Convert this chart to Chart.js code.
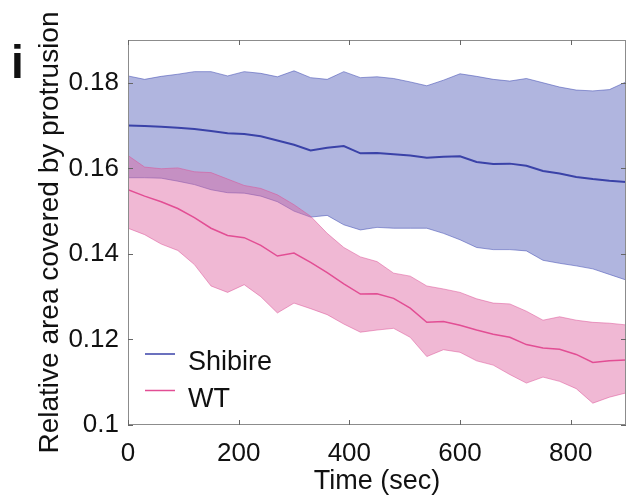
<!DOCTYPE html>
<html>
<head>
<meta charset="utf-8">
<script src="https://cdn.jsdelivr.net/npm/chart.js"></script>
<style>
  html, body { margin: 0; padding: 0; background: #fff; }
  #wrap { width: 627px; height: 498px; }
</style>
</head>
<body>
<div id="wrap"><canvas id="chart" width="627" height="498"></canvas></div>
<script>
// time points (sec)
const times = [0, 30, 60, 90, 120, 150, 180, 210, 240, 270, 300, 330, 360, 390, 420, 450,
               480, 510, 540, 570, 600, 630, 660, 690, 720, 750, 780, 810, 840, 870, 900];

// Shibire: mean and band limits
const shibireUpper = [0.1816, 0.1808, 0.1815, 0.1820, 0.1826, 0.1826, 0.1816, 0.1826, 0.1822, 0.1814, 0.1828,
                      0.1812, 0.1808, 0.1826, 0.1812, 0.1814, 0.1810, 0.1802, 0.1793, 0.1806, 0.1821,
                      0.1815, 0.1808, 0.1804, 0.1810, 0.1800, 0.1790, 0.1783, 0.1781, 0.1784, 0.1802];
const shibireMean  = [0.1700, 0.1699, 0.1697, 0.1695, 0.1692, 0.1687, 0.1682, 0.1680, 0.1675, 0.1665, 0.1655,
                      0.1642, 0.1648, 0.1652, 0.1635, 0.1636, 0.1633, 0.1630, 0.1625, 0.1627, 0.1628,
                      0.1615, 0.1610, 0.1611, 0.1606, 0.1594, 0.1588, 0.1580, 0.1575, 0.1571, 0.1568];
const shibireLower = [0.1578, 0.1578, 0.1577, 0.1570, 0.1562, 0.1550, 0.1543, 0.1542, 0.1535, 0.1522, 0.1500,
                      0.1486, 0.1490, 0.1468, 0.1456, 0.1462, 0.1460, 0.1460, 0.1460, 0.1448, 0.1433,
                      0.1415, 0.1410, 0.1410, 0.1407, 0.1385, 0.1378, 0.1372, 0.1365, 0.1352, 0.1339];

// WT: mean and band limits
const wtUpper = [0.1630, 0.1603, 0.1599, 0.1601, 0.1592, 0.1590, 0.1575, 0.1560, 0.1553, 0.1538, 0.1515,
                 0.1488, 0.1448, 0.1415, 0.1393, 0.1382, 0.1355, 0.1348, 0.1325, 0.1318, 0.1310,
                 0.1295, 0.1285, 0.1283, 0.1266, 0.1245, 0.1253, 0.1245, 0.1240, 0.1238, 0.1234];
const wtMean  = [0.1550, 0.1535, 0.1522, 0.1506, 0.1485, 0.1460, 0.1443, 0.1438, 0.1420, 0.1395, 0.1402,
                 0.1380, 0.1356, 0.1330, 0.1306, 0.1307, 0.1296, 0.1273, 0.1240, 0.1242, 0.1233,
                 0.1222, 0.1212, 0.1205, 0.1188, 0.1180, 0.1177, 0.1165, 0.1146, 0.1150, 0.1152];
const wtLower = [0.1460, 0.1445, 0.1423, 0.1408, 0.1375, 0.1325, 0.1310, 0.1328, 0.1300, 0.1262, 0.1285,
                 0.1272, 0.1258, 0.1236, 0.1217, 0.1222, 0.1226, 0.1205, 0.1160, 0.1176, 0.1170,
                 0.1150, 0.1140, 0.1118, 0.1098, 0.1112, 0.1102, 0.1085, 0.1051, 0.1065, 0.1075];

const seriesNames = ['Shibire', 'WT'];

const FONT = "'Liberation Sans', Arial, Helvetica, sans-serif";
const BLUE = 'rgb(58, 66, 168)';
const PINK = 'rgb(226, 78, 148)';

const pts = vals => vals.map((v, i) => ({ x: times[i], y: v }));

// inward ticks, box frame, in-plot legend and panel letter
const framePlugin = {
    id: 'frame',
    afterDatasetsDraw(chart) {
        const { ctx, chartArea: a, scales } = chart;
        ctx.save();
        ctx.lineWidth = 1;
        ctx.strokeStyle = '#8c8c8c';
        ctx.strokeRect(a.left + 0.5, a.top + 0.5, a.right - a.left - 1, a.bottom - a.top - 1);

        ctx.strokeStyle = '#666';
        ctx.beginPath();
        scales.x.ticks.forEach(t => {
            const px = Math.round(scales.x.getPixelForValue(t.value)) + 0.5;
            ctx.moveTo(px, a.bottom); ctx.lineTo(px, a.bottom - 5);
            ctx.moveTo(px, a.top); ctx.lineTo(px, a.top + 5);
        });
        scales.y.ticks.forEach(t => {
            const py = Math.round(scales.y.getPixelForValue(t.value)) + 0.5;
            ctx.moveTo(a.left, py); ctx.lineTo(a.left + 5, py);
            ctx.moveTo(a.right, py); ctx.lineTo(a.right - 5, py);
        });
        ctx.stroke();

        // legend
        const colors = [BLUE, PINK];
        const lineY = [354, 390.5];
        const textY = [370, 407];
        ctx.font = '27px ' + FONT;
        ctx.fillStyle = '#111';
        ctx.textAlign = 'left';
        ctx.textBaseline = 'alphabetic';
        seriesNames.forEach((name, i) => {
            ctx.strokeStyle = colors[i];
            ctx.lineWidth = 1.5;
            ctx.beginPath();
            ctx.moveTo(145, lineY[i]); ctx.lineTo(175, lineY[i]);
            ctx.stroke();
            ctx.fillText(name, 188, textY[i]);
        });

        ctx.font = 'bold 46px ' + FONT;
        ctx.fillText('i', 11, 78);
        ctx.restore();
    }
};

new Chart(document.getElementById('chart'), {
    type: 'line',
    data: {
        datasets: [
            { label: 'Shibire lower', data: pts(shibireLower), borderColor: 'rgba(70, 80, 180, 0.55)',
              borderWidth: 1, fill: false, order: 6 },
            { label: 'Shibire upper', data: pts(shibireUpper), borderColor: 'rgba(70, 80, 180, 0.55)',
              borderWidth: 1, fill: '-1', backgroundColor: 'rgba(80, 90, 185, 0.45)', order: 6 },
            { label: 'Shibire', data: pts(shibireMean), borderColor: BLUE, borderWidth: 2, fill: false, order: 5 },
            { label: 'WT lower', data: pts(wtLower), borderColor: 'rgba(220, 80, 150, 0.5)',
              borderWidth: 1, fill: false, order: 3 },
            { label: 'WT upper', data: pts(wtUpper), borderColor: 'rgba(220, 80, 150, 0.5)',
              borderWidth: 1, fill: '-1', backgroundColor: 'rgba(222, 100, 162, 0.46)', order: 3 },
            { label: 'WT', data: pts(wtMean), borderColor: PINK, borderWidth: 1.5, fill: false, order: 1 }
        ]
    },
    options: {
        responsive: false,
        devicePixelRatio: 1,
        animation: false,
        layout: { padding: { top: 40, right: 1, left: 0, bottom: 0 } },
        elements: { point: { radius: 0 }, line: { tension: 0 } },
        plugins: { legend: { display: false }, tooltip: { enabled: false } },
        scales: {
            x: {
                type: 'linear', min: 0, max: 900,
                grid: { display: false, drawTicks: false },
                border: { display: false },
                ticks: { stepSize: 200, includeBounds: false, autoSkip: false, maxRotation: 0,
                         padding: 13, color: '#111', font: { family: FONT, size: 26 } },
                title: { display: true, text: 'Time (sec)', color: '#111',
                         font: { family: FONT, size: 27 }, padding: { top: 0, bottom: 0 } },
                afterFit(s) { s.height = 73; }
            },
            y: {
                type: 'linear', min: 0.1, max: 0.19,
                grid: { display: false, drawTicks: false },
                border: { display: false },
                ticks: { stepSize: 0.02, includeBounds: false, padding: 9, color: '#111',
                         font: { family: FONT, size: 26 },
                         callback: v => String(Math.round(v * 100) / 100) },
                title: { display: true, text: 'Relative area covered by protrusion', color: '#111',
                         font: { family: FONT, size: 28 }, padding: { top: 33, bottom: 0 } },
                afterFit(s) { s.width = 128; }
            }
        }
    },
    plugins: [framePlugin]
});
</script>
</body>
</html>
